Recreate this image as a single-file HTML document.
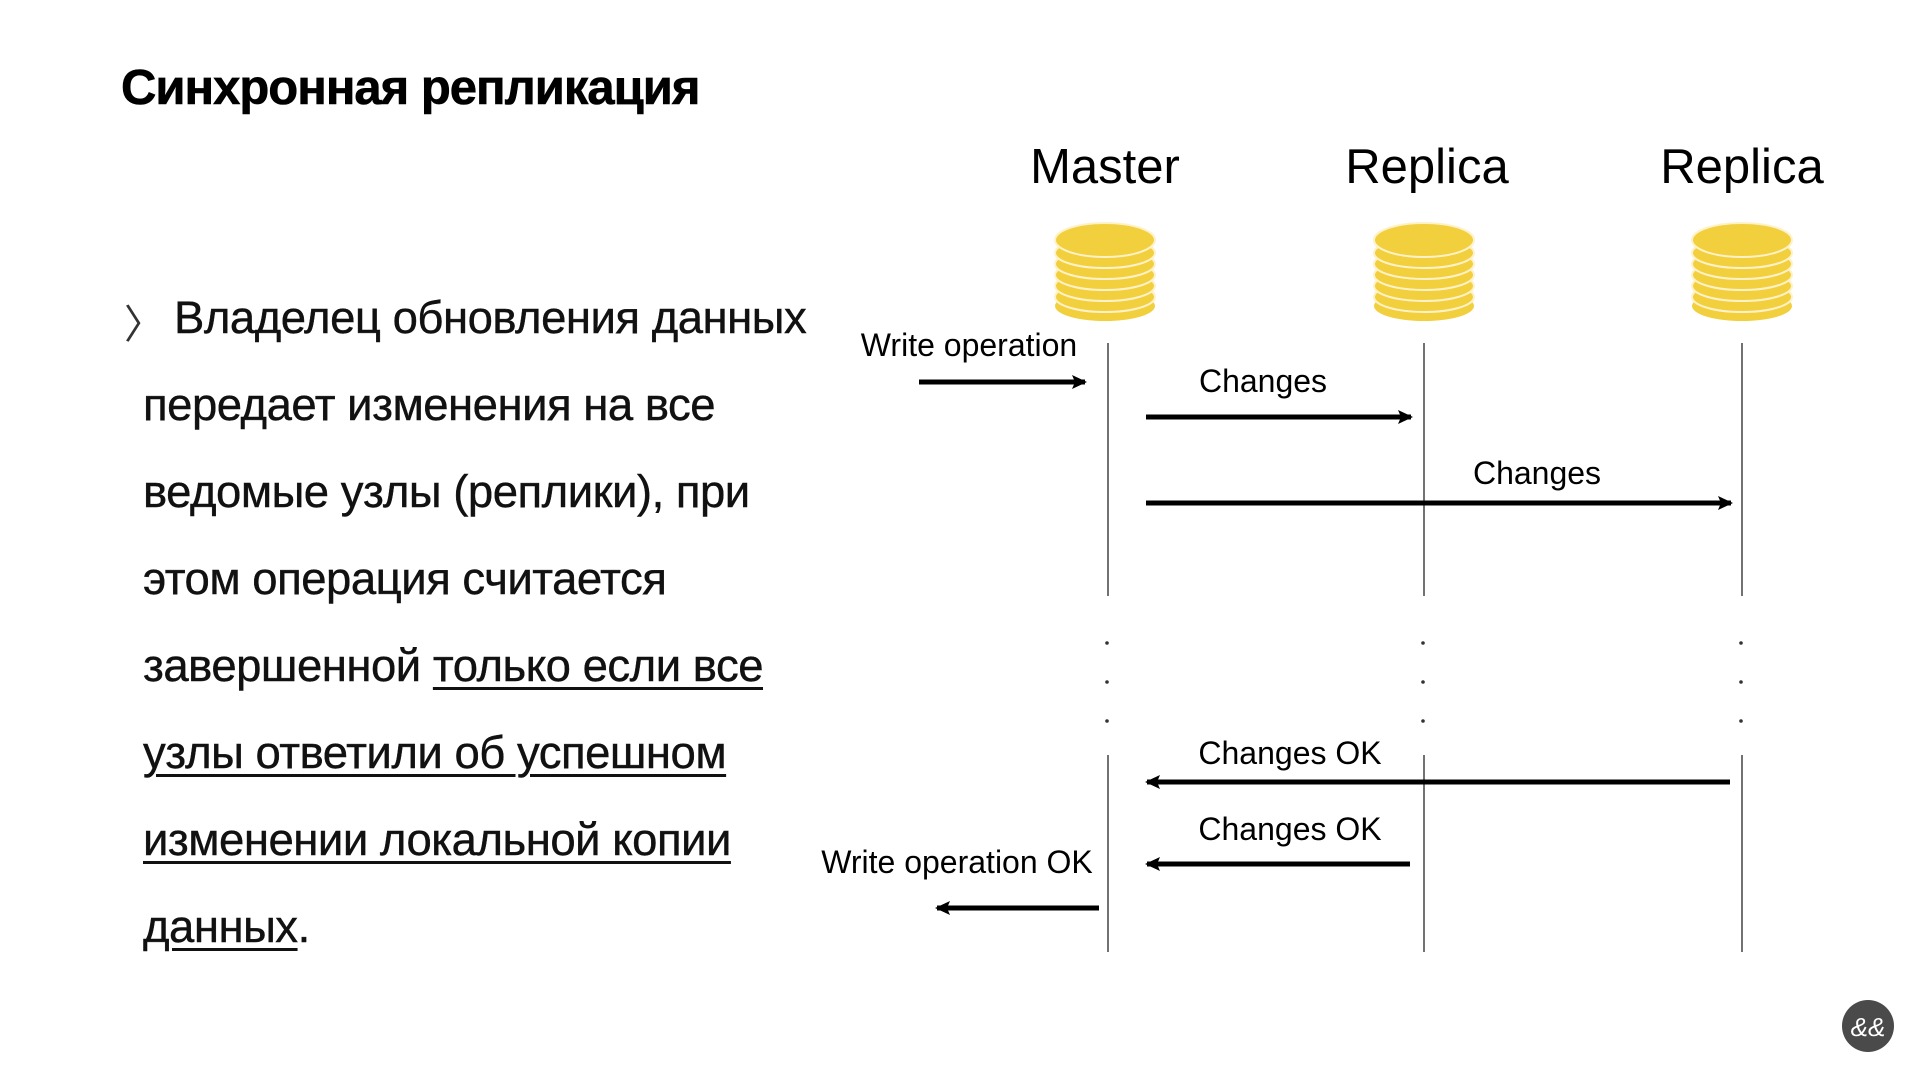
<!DOCTYPE html>
<html><head><meta charset="utf-8"><style>
body{margin:0;width:1919px;height:1079px;background:#fff;overflow:hidden;position:relative;font-family:"Liberation Sans","DejaVu Sans",sans-serif;color:#000}
.t{position:absolute;white-space:nowrap}
.title{left:121px;top:60px;font-size:49px;font-weight:bold;letter-spacing:-1px;-webkit-text-stroke:0.6px #000}
.body{font-size:45.5px;letter-spacing:-0.5px;color:#111;-webkit-text-stroke:0.4px #111}
u{text-decoration-thickness:3px;text-underline-offset:6px}
</style></head><body>
<div class="t title">Синхронная репликация</div>
<div class="t body" style="left:124px;top:292px;font-size:40px;color:#333;-webkit-text-stroke:0">〉</div>
<div class="t body" style="left:174px;top:292px">Владелец обновления данных</div>
<div class="t body" style="left:143px;top:379px">передает изменения на все</div>
<div class="t body" style="left:143px;top:466px">ведомые узлы (реплики), при</div>
<div class="t body" style="left:143px;top:553px">этом операция считается</div>
<div class="t body" style="left:143px;top:640px">завершенной <u>только если все</u></div>
<div class="t body" style="left:143px;top:727px"><u>узлы ответили об успешном</u></div>
<div class="t body" style="left:143px;top:814px"><u>изменении локальной копии</u></div>
<div class="t body" style="left:143px;top:901px"><u>данных</u>.</div>
<svg width="1919" height="1079" style="position:absolute;left:0;top:0" font-family="Liberation Sans, sans-serif">
<defs>
<g id="db">
<ellipse cx="0" cy="83" rx="50" ry="15" fill="#f2cf3c"/>
<ellipse cx="0" cy="74" rx="50" ry="15" fill="#f2cf3c" stroke="#fff2c8" stroke-width="2"/>
<ellipse cx="0" cy="63" rx="50" ry="15" fill="#f2cf3c" stroke="#fff2c8" stroke-width="2"/>
<ellipse cx="0" cy="52" rx="50" ry="15" fill="#f2cf3c" stroke="#fff2c8" stroke-width="2"/>
<ellipse cx="0" cy="41" rx="50" ry="15" fill="#f2cf3c" stroke="#fff2c8" stroke-width="2"/>
<ellipse cx="0" cy="30" rx="50" ry="15" fill="#f2cf3c" stroke="#fff2c8" stroke-width="2"/>
<ellipse cx="0" cy="17" rx="50" ry="17" fill="#f2cf3c" stroke="#fff2c8" stroke-width="2"/>
</g>
<marker id="a" markerWidth="16" markerHeight="16" refX="13" refY="8" orient="auto" markerUnits="userSpaceOnUse"><path d="M0,1 L15,8 L0,15 L3,8 z" fill="#000"/></marker>
</defs>
<g font-size="49" text-anchor="middle">
<text x="1105" y="183">Master</text><text x="1427" y="183">Replica</text><text x="1742" y="183">Replica</text>
</g>
<use href="#db" x="1105" y="223"/><use href="#db" x="1424" y="223"/><use href="#db" x="1742" y="223"/>
<g stroke="#444" stroke-width="1.5">
<line x1="1108" y1="343" x2="1108" y2="596"/><line x1="1424" y1="343" x2="1424" y2="596"/><line x1="1742" y1="343" x2="1742" y2="596"/>
<line x1="1108" y1="755" x2="1108" y2="952"/><line x1="1424" y1="755" x2="1424" y2="952"/><line x1="1742" y1="755" x2="1742" y2="952"/>
</g>
<g fill="#333">
<circle cx="1107" cy="643" r="1.8"/><circle cx="1107" cy="682" r="1.8"/><circle cx="1107" cy="721" r="1.8"/>
<circle cx="1423" cy="643" r="1.8"/><circle cx="1423" cy="682" r="1.8"/><circle cx="1423" cy="721" r="1.8"/>
<circle cx="1741" cy="643" r="1.8"/><circle cx="1741" cy="682" r="1.8"/><circle cx="1741" cy="721" r="1.8"/>
</g>
<g stroke="#000" stroke-width="5" marker-end="url(#a)">
<line x1="919" y1="382" x2="1085" y2="382"/>
<line x1="1146" y1="417" x2="1411" y2="417"/>
<line x1="1146" y1="503" x2="1731" y2="503"/>
<line x1="1730" y1="782" x2="1147" y2="782"/>
<line x1="1410" y1="864" x2="1147" y2="864"/>
<line x1="1099" y1="908" x2="937" y2="908"/>
</g>
<g font-size="32" text-anchor="middle">
<text x="969" y="356">Write operation</text>
<text x="1263" y="392">Changes</text>
<text x="1537" y="484">Changes</text>
<text x="1290" y="764">Changes OK</text>
<text x="1290" y="840">Changes OK</text>
<text x="957" y="873">Write operation OK</text>
</g>
<circle cx="1868" cy="1026" r="26" fill="#4a4a4a"/>
<text x="1868" y="1036" font-size="26" fill="#fff" text-anchor="middle" font-style="italic">&amp;&amp;</text>
</svg>
</body></html>
